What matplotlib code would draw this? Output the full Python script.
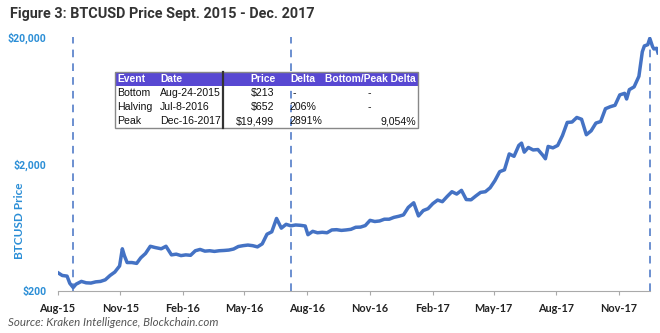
import matplotlib
matplotlib.use("Agg")
import matplotlib.pyplot as plt
import matplotlib.dates as mdates
from matplotlib.patches import Rectangle
from matplotlib.lines import Line2D
import pandas as pd

# BTCUSD price (roughly weekly, more points around spikes)
priceDates = [
    "2015-08-01", "2015-08-08", "2015-08-15", "2015-08-19", "2015-08-24", "2015-08-28",
    "2015-09-05", "2015-09-12", "2015-09-19", "2015-09-26", "2015-10-03", "2015-10-10",
    "2015-10-17", "2015-10-24", "2015-10-31", "2015-11-04", "2015-11-07", "2015-11-11",
    "2015-11-18", "2015-11-25", "2015-12-01", "2015-12-08", "2015-12-15", "2015-12-22",
    "2015-12-31", "2016-01-07", "2016-01-15", "2016-01-22", "2016-01-29", "2016-02-05",
    "2016-02-12", "2016-02-19", "2016-02-26", "2016-03-04", "2016-03-11", "2016-03-18",
    "2016-03-25", "2016-04-01", "2016-04-08", "2016-04-15", "2016-04-22", "2016-04-29",
    "2016-05-06", "2016-05-13", "2016-05-20", "2016-05-27", "2016-06-03", "2016-06-10",
    "2016-06-17", "2016-06-24", "2016-07-01", "2016-07-08", "2016-07-15", "2016-07-22",
    "2016-07-29", "2016-08-02", "2016-08-09", "2016-08-16", "2016-08-23", "2016-08-30",
    "2016-09-06", "2016-09-13", "2016-09-20", "2016-09-27", "2016-10-04", "2016-10-11",
    "2016-10-18", "2016-10-25", "2016-11-01", "2016-11-08", "2016-11-15", "2016-11-22",
    "2016-11-29", "2016-12-06", "2016-12-13", "2016-12-20", "2016-12-27", "2017-01-04",
    "2017-01-11", "2017-01-18", "2017-01-25", "2017-02-01", "2017-02-08", "2017-02-15",
    "2017-02-22", "2017-03-01", "2017-03-08", "2017-03-15", "2017-03-22", "2017-03-29",
    "2017-04-05", "2017-04-12", "2017-04-19", "2017-04-26", "2017-05-03", "2017-05-10",
    "2017-05-17", "2017-05-24", "2017-05-31", "2017-06-07", "2017-06-11", "2017-06-15",
    "2017-06-21", "2017-06-28", "2017-07-05", "2017-07-12", "2017-07-16", "2017-07-20",
    "2017-07-27", "2017-08-03", "2017-08-10", "2017-08-17", "2017-08-24", "2017-08-31",
    "2017-09-07", "2017-09-14", "2017-09-21", "2017-09-28", "2017-10-05", "2017-10-12",
    "2017-10-19", "2017-10-26", "2017-11-02", "2017-11-09", "2017-11-12", "2017-11-16",
    "2017-11-23", "2017-11-30", "2017-12-05", "2017-12-08", "2017-12-13", "2017-12-16",
    "2017-12-20", "2017-12-22", "2017-12-26", "2017-12-28",
]
priceValues = [
    280, 265, 262, 230, 213, 226,
    238, 232, 231, 236, 238, 245,
    265, 282, 315, 430, 380, 335,
    335, 330, 365, 395, 450, 440,
    430, 450, 385, 390, 380, 385,
    382, 415, 425, 412, 415, 410,
    415, 417, 420, 428, 448, 455,
    460, 455, 445, 470, 560, 585,
    745, 625, 670, 652, 662, 658,
    650, 555, 590, 575, 580, 575,
    605, 608, 600, 605, 612, 635,
    637, 655, 720, 705, 712, 735,
    735, 760, 775, 795, 910, 990,
    780, 860, 890, 975, 1040, 1010,
    1110, 1210, 1160, 1240, 1050, 1045,
    1120, 1195, 1210, 1300, 1480, 1740,
    1800, 2400, 2300, 2800, 2920, 2480,
    2700, 2580, 2600, 2350, 2200, 2750,
    2680, 2800, 3350, 4250, 4280, 4650,
    4500, 3400, 3650, 4200, 4320, 5450,
    5650, 5800, 7000, 7200, 6500, 7700,
    8100, 9800, 15300, 17000, 17400, 19499,
    16800, 16100, 16300, 15000,
]

eventDates = ["2015-08-24", "2016-07-08", "2017-12-16"]

tickDates = ["2015-08-01", "2015-11-01", "2016-02-01", "2016-05-01", "2016-08-01",
             "2016-11-01", "2017-02-01", "2017-05-01", "2017-08-01", "2017-11-01"]
yTicks = [200, 2000, 20000]
yTickLabels = ["$200", "$2,000", "$20,000"]

tableHeader = ["Event", "Date", "Price", "Delta", "Bottom/Peak Delta"]
tableRows = [
    ["Bottom", "Aug-24-2015", "$213", "-", "-"],
    ["Halving", "Jul-8-2016", "$652", "206%", "-"],
    ["Peak", "Dec-16-2017", "$19,499", "2891%", "9,054%"],
]

lineBlue = "#4472C4"
labelBlue = "#2B8ED6"
W, H = 660, 333

def fx(x):
    return x / W

def fy(y):
    return 1 - y / H


fig = plt.figure(figsize=(6.6, 3.33), dpi=100)
ax = fig.add_axes([fx(57.5), fy(291), fx(658) - fx(57.5), fy(37) - fy(291)])

dates = pd.to_datetime(priceDates)
ax.plot(dates, priceValues, color=lineBlue, lw=2.5, solid_joinstyle="round", zorder=3)

for d in eventDates:
    ax.axvline(pd.to_datetime(d), color=lineBlue, lw=1.1, ls=(0, (5, 4)), zorder=2)

ax.set_yscale("log")
ax.set_ylim(200, 20000)
ax.set_xlim(pd.to_datetime("2015-08-01"), pd.to_datetime("2017-12-28"))
ax.set_yticks(yTicks)
ax.yaxis.set_minor_locator(matplotlib.ticker.NullLocator())
ax.set_yticklabels(yTickLabels, fontweight="bold", family="Roboto", color=labelBlue, fontsize=7.6)
ax.tick_params(axis="y", length=0, pad=8)

ax.set_xticks(pd.to_datetime(tickDates))
ax.set_xticklabels([pd.to_datetime(d).strftime("%b-%y") for d in tickDates],
                   fontweight="bold", family="Lato", color="#222222", fontsize=7.8)
ax.tick_params(axis="x", length=3, color="#aaaaaa", pad=6)

for s in ["top", "right", "left"]:
    ax.spines[s].set_visible(False)
ax.spines["bottom"].set_color("#aaaaaa")
ax.spines["bottom"].set_bounds(mdates.date2num(pd.to_datetime("2015-08-01")),
                               mdates.date2num(pd.to_datetime("2017-12-16")))

fig.text(fx(20), fy(221), "BTCUSD Price", rotation=90, ha="center", va="center",
         color=labelBlue, fontsize=8.5, fontweight="bold", family="Lato")

fig.text(fx(10), fy(14), "Figure 3: BTCUSD Price Sept. 2015 - Dec. 2017", ha="left", va="center",
         color="#333333", fontsize=10.4, fontweight="bold", family="Roboto")
fig.text(fx(8), fy(322), "Source: Kraken Intelligence, Blockchain.com", ha="left", va="center",
         color="#555555", fontsize=8.3, style="italic", family="Lato")

# table with the three events
tx0, tx1 = 115, 418
rowTops = [72, 86, 100, 114, 128]
fig.patches.append(Rectangle((fx(tx0), fy(rowTops[1])), fx(tx1) - fx(tx0), fy(rowTops[0]) - fy(rowTops[1]),
                             transform=fig.transFigure, facecolor="#5848D2", edgecolor="none", zorder=5))
fig.patches.append(Rectangle((fx(tx0), fy(rowTops[-1])), fx(tx1) - fx(tx0), fy(rowTops[0]) - fy(rowTops[-1]),
                             transform=fig.transFigure, facecolor="none", edgecolor="#888888", lw=1, zorder=6))
fig.lines.append(Line2D([fx(223), fx(223)], [fy(rowTops[0]), fy(rowTops[-1])], transform=fig.transFigure,
                        color="#333333", lw=1.6, zorder=7))

colX = [117, 160, 276, 290, 416]
colHa = ["left", "left", "right", "left", "right"]
for i, txt in enumerate(tableHeader):
    fig.text(fx(colX[i]), fy(79.5), txt, ha=colHa[i], va="center", color="white",
             fontsize=7.4, fontweight="bold", family="Liberation Sans", zorder=8)

valX = [117, 160, 274, 289, 416]
valHa = ["left", "left", "right", "left", "right"]
for r, row in enumerate(tableRows):
    yc = (rowTops[r + 1] + rowTops[r + 2]) / 2
    for i, txt in enumerate(row):
        x, ha = valX[i], valHa[i]
        if txt == "-":
            x = [0, 0, 0, 294, 369][i]
            ha = "center"
        fig.text(fx(x), fy(yc), txt, ha=ha, va="center", color="#111111",
                 fontsize=7.6, family="Liberation Sans", zorder=8)

fig.savefig("out.png", dpi=100)
